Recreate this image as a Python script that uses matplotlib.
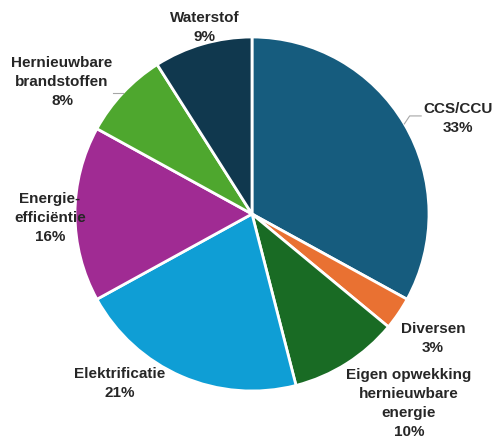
import numpy as np
import matplotlib
matplotlib.use("Agg")
import matplotlib.pyplot as plt

LABELS = ["CCS/CCU", "Diversen", "Eigen opwekking\nhernieuwbare\nenergie", "Elektrificatie",
          "Energie-\nefficiëntie", "Hernieuwbare\nbrandstoffen", "Waterstof"]
VALUES = [33, 3, 10, 21, 16, 8, 9]
COLORS = ["#165c7e", "#e97132", "#196b24", "#0f9ed5", "#a02b93", "#4ea72e", "#10384e"]

# text placement (data units, pie radius = 1)
LABEL_POS = [(1.164, 0.537), (1.023, -0.701), (0.887, -1.073), (-0.746, -0.960),
             (-1.141, -0.023), (-1.073, 0.746), (-0.266, 1.056)]

W, H = 496, 443
CX, CY, R = 252, 214, 177

fig = plt.figure(figsize=(W / 100, H / 100), dpi=100)
ax = fig.add_axes([0, 0, 1, 1])

wedges, _ = ax.pie(VALUES, colors=COLORS, startangle=90, counterclock=False, radius=1,
                   wedgeprops=dict(edgecolor="white", linewidth=2))
ax.set_xlim(-CX / R, (W - CX) / R)
ax.set_ylim(-(H - CY) / R, CY / R)
ax.set_aspect("equal")
ax.axis("off")

for label, value, (tx, ty) in zip(LABELS, VALUES, LABEL_POS):
    ax.text(tx, ty, f"{label}\n{value}%", ha="center", va="center", fontsize=11,
            fontweight="bold", color="#262626", family=["Liberation Sans", "DejaVu Sans"],
            linespacing=1.45)

# leader lines
for idx in (0, 5):
    w = wedges[idx]
    mid = np.deg2rad((w.theta1 + w.theta2) / 2)
    x0, y0 = np.cos(mid), np.sin(mid)
    if idx == 0:
        xs, ys = [x0, x0 + 0.03, x0 + 0.095], [y0, y0 + 0.045, y0 + 0.045]
    else:
        xs, ys = [x0, x0 - 0.056], [y0, y0]
    ax.plot(xs, ys, color="#a6a6a6", linewidth=0.8)

fig.savefig("out.png", dpi=100)
